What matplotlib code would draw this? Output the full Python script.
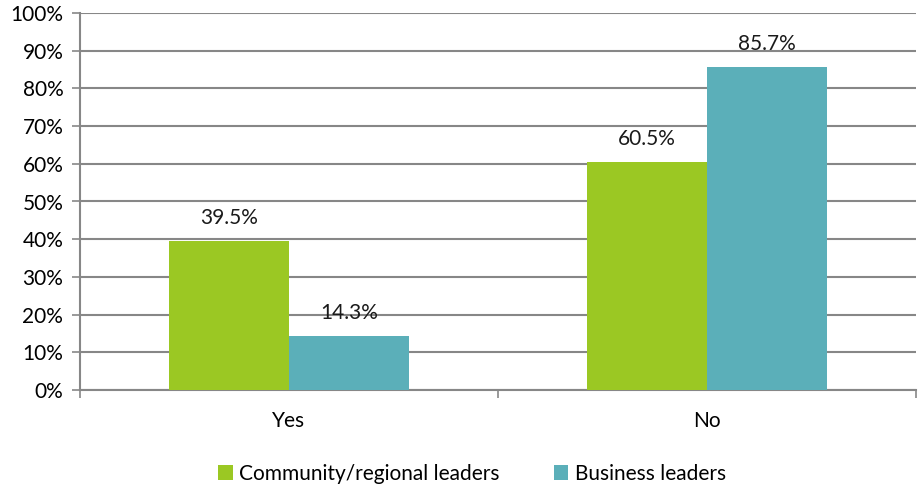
import matplotlib.pyplot as plt
import numpy as np

plt.rcParams['font.family'] = ['Lato', 'DejaVu Sans']

categories = ['Yes', 'No']
community = [39.5, 60.5]
business = [14.3, 85.7]
series_names = ['Community/regional leaders', 'Business leaders']
colors = ['#9BC823', '#5BAFB9']

fig = plt.figure(figsize=(9.19, 4.86), dpi=100)
ax = fig.add_axes([80 / 919, 1 - 390 / 486, 836 / 919, 377 / 486])

x = np.arange(len(categories))
w = 0.288
b1 = ax.bar(x - w / 2, community, w, color=colors[0], label=series_names[0], zorder=3)
b2 = ax.bar(x + w / 2, business, w, color=colors[1], label=series_names[1], zorder=3)

for bars, vals in ((b1, community), (b2, business)):
    for rect, v in zip(bars, vals):
        ax.text(rect.get_x() + rect.get_width() / 2, v + 6.2, f'{v:.1f}%',
                ha='center', va='center', fontsize=15, color='#1a1a1a', zorder=4)

ax.set_xlim(-0.5, 1.5)
ax.set_ylim(0, 100)
ax.set_yticks(np.arange(0, 101, 10))
ax.set_yticklabels([f'{v}%' for v in range(0, 101, 10)], fontsize=15)
ax.yaxis.grid(True, color='#878787', linewidth=1.5, zorder=0)

# category ticks sit between groups, labels centered under them
ax.set_xticks([-0.5, 0.5, 1.5])
ax.set_xticklabels([])
ax.set_xticks(x, minor=True)
ax.set_xticklabels(categories, minor=True, fontsize=15)
ax.tick_params(axis='x', which='minor', length=0, pad=15)
ax.tick_params(axis='x', which='major', length=6, width=1.2, color='#878787')
ax.tick_params(axis='y', length=6, width=1.2, color='#878787', pad=6)

for s in ['top', 'right']:
    ax.spines[s].set_visible(False)
for s in ['left', 'bottom']:
    ax.spines[s].set_color('#878787')
    ax.spines[s].set_linewidth(1.5)

ax.legend(loc='center', bbox_to_anchor=(472 / 919, 1 - 474 / 486),
          bbox_transform=fig.transFigure, ncol=2, frameon=False, fontsize=15,
          handlelength=0.7, handleheight=0.7, handletextpad=0.3, columnspacing=2.6)

fig.savefig('out.png', dpi=100)
